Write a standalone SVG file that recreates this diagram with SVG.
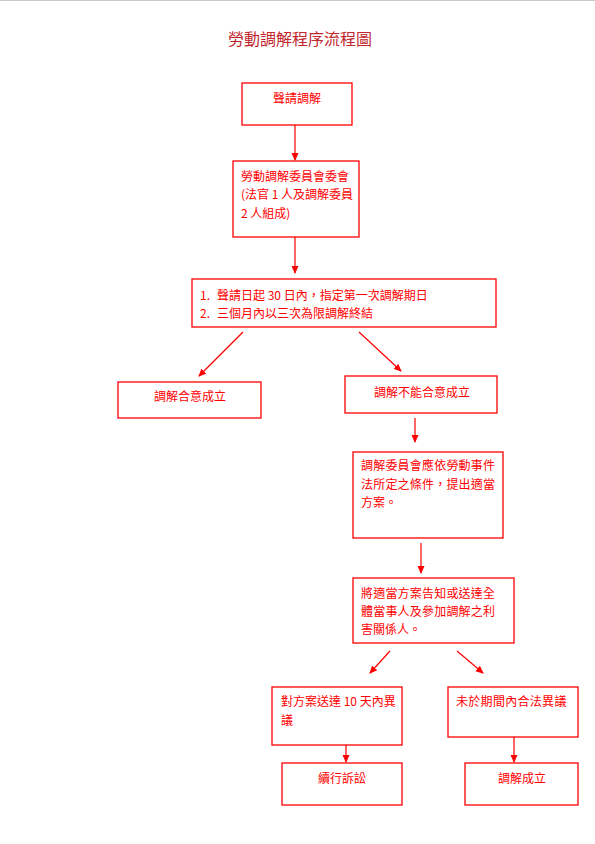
<svg xmlns="http://www.w3.org/2000/svg" width="595" height="844" viewBox="0 0 595 844">
<defs>
<marker id="ah" markerWidth="8" markerHeight="8" refX="7" refY="4" orient="auto" markerUnits="userSpaceOnUse">
<path d="M0,0.5 L8,4 L0,7.5 Z" fill="#ff0000"/>
</marker>
<style>
.box{fill:#ffffff;stroke:#ff0000;stroke-width:1.3}
.t{font-family:"Noto Sans CJK TC","Noto Sans CJK SC",sans-serif;font-size:12px;fill:#ff0000;dominant-baseline:central}
.c{text-anchor:middle}
.ln{stroke:#ff0000;stroke-width:1.2;fill:none;marker-end:url(#ah)}
</style>
</defs>
<rect width="595" height="844" fill="#ffffff"/>
<line x1="0" y1="0.5" x2="595" y2="0.5" stroke="#c8c8c8" stroke-width="1"/>
<text x="300" y="38" text-anchor="middle" dominant-baseline="central" font-family="'Noto Sans CJK TC','Noto Sans CJK SC',sans-serif" font-size="16" fill="#c0282d">勞動調解程序流程圖</text>

<g id="connectors">
<line class="ln" x1="295" y1="125" x2="295" y2="160"/>
<line class="ln" x1="295" y1="237" x2="295" y2="273"/>
<line class="ln" x1="243" y1="332" x2="199" y2="376"/>
<line class="ln" x1="359" y1="332" x2="401" y2="371"/>
<line class="ln" x1="415" y1="418" x2="415" y2="442"/>
<line class="ln" x1="421" y1="543" x2="421" y2="573"/>
<line class="ln" x1="390" y1="651" x2="370" y2="673"/>
<line class="ln" x1="457" y1="651" x2="483" y2="673"/>
<line class="ln" x1="346" y1="745" x2="346" y2="762"/>
<line class="ln" x1="514" y1="737" x2="514" y2="762"/>
</g>

<g id="n1"><rect class="box" x="242" y="83" width="110" height="42"/><text class="t c" x="297" y="97">聲請調解</text></g>
<g id="n2"><rect class="box" x="233" y="161" width="126" height="76"/>
<text class="t" x="241" y="175">勞動調解委員會委會</text>
<text class="t" x="241" y="193">(法官 1 人及調解委員</text>
<text class="t" x="241" y="212">2 人組成)</text></g>
<g id="n3"><rect class="box" x="192" y="279" width="304" height="48"/>
<text class="t" x="200" y="294">1.</text><text class="t" x="217" y="294">聲請日起 30 日內，指定第一次調解期日</text>
<text class="t" x="200" y="312">2.</text><text class="t" x="217" y="312">三個月內以三次為限調解終結</text></g>
<g id="n4"><rect class="box" x="118" y="382" width="143" height="36"/><text class="t c" x="190" y="395">調解合意成立</text></g>
<g id="n5"><rect class="box" x="345" y="376" width="152" height="37"/><text class="t c" x="422" y="391">調解不能合意成立</text></g>
<g id="n6"><rect class="box" x="353" y="452" width="150" height="86"/>
<text class="t" x="361" y="464" letter-spacing="0.2">調解委員會應依勞動事件</text>
<text class="t" x="361" y="483" letter-spacing="0.2">法所定之條件，提出適當</text>
<text class="t" x="361" y="501">方案。</text></g>
<g id="n7"><rect class="box" x="353" y="578" width="161" height="65"/>
<text class="t" x="361" y="592" letter-spacing="0.2">將適當方案告知或送達全</text>
<text class="t" x="361" y="610" letter-spacing="0.2">體當事人及參加調解之利</text>
<text class="t" x="361" y="628">害關係人。</text></g>
<g id="n8"><rect class="box" x="272" y="687" width="130" height="58"/>
<text class="t" x="281" y="700">對方案送達 10 天內異</text>
<text class="t" x="281" y="719">議</text></g>
<g id="n9"><rect class="box" x="448" y="687" width="130" height="50"/><text class="t" x="456" y="700" letter-spacing="0.3">未於期間內合法異議</text></g>
<g id="n10"><rect class="box" x="282" y="763" width="120" height="42"/><text class="t c" x="342" y="777">續行訴訟</text></g>
<g id="n11"><rect class="box" x="465" y="763" width="113" height="42"/><text class="t c" x="522" y="777">調解成立</text></g>
</svg>
